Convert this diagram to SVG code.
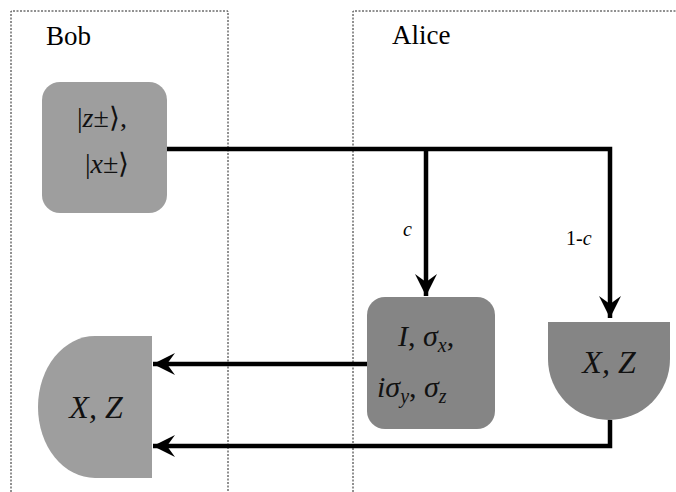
<svg xmlns="http://www.w3.org/2000/svg" width="676" height="492" viewBox="0 0 676 492" font-family="'Times New Roman', 'Liberation Serif', serif">
<defs>
<marker id="ah" viewBox="0 0 24 24" refX="22" refY="12" markerWidth="24" markerHeight="24" markerUnits="userSpaceOnUse" orient="auto">
<path d="M0,1 L22,12 L0,23 L8,12 Z" fill="#000"/>
</marker>
</defs>
<rect width="676" height="492" fill="#fff"/>
<g id="panel-bob">
<path d="M11,492 V11 H228 V492" fill="none" stroke="#222" stroke-width="1" stroke-dasharray="2,1.5"/>
<text x="46" y="45" font-family="'Times New Roman', serif" font-size="27">Bob</text>
</g>
<g id="panel-alice">
<path d="M353,492 V11 H676" fill="none" stroke="#222" stroke-width="1" stroke-dasharray="2,1.5"/>
<text x="392" y="44" font-family="'Times New Roman', serif" font-size="27">Alice</text>
</g>
<g id="connectors" fill="none" stroke="#000" stroke-width="4.5">
<path d="M167,149 H610 V318" marker-end="url(#ah)"/>
<path d="M426,149 V296" marker-end="url(#ah)"/>
<path d="M367,364 H153" marker-end="url(#ah)"/>
<path d="M610,420 V446 H153" marker-end="url(#ah)"/>
<text x="403" y="236" font-family="'Times New Roman', serif" font-size="20" font-style="italic" fill="#000" stroke="none">c</text>
<text x="566" y="245" font-family="'Times New Roman', serif" font-size="20" fill="#000" stroke="none">1-<tspan font-style="italic">c</tspan></text>
</g>
<g id="node-source" font-family="'Times New Roman', serif" font-size="28">
<rect x="42" y="82" width="125" height="131" rx="18" fill="#9e9e9e"/>
<text x="77" y="127" fill="#111">|<tspan font-style="italic">z</tspan>±⟩,</text>
<text x="85" y="173" fill="#111">|<tspan font-style="italic">x</tspan>±⟩</text>
</g>
<g id="node-pauli" font-family="'Times New Roman', serif" font-size="30">
<rect x="367" y="297" width="128" height="132" rx="18" fill="#858585"/>
<text x="398" y="346" fill="#111"><tspan font-style="italic">I</tspan>, <tspan font-style="italic">σ</tspan><tspan dy="6" font-size="20" font-style="italic">x</tspan><tspan dy="-6">,</tspan></text>
<text x="377" y="397" fill="#111"><tspan font-style="italic">iσ</tspan><tspan dy="6" font-size="20" font-style="italic">y</tspan><tspan dy="-6">, </tspan><tspan font-style="italic">σ</tspan><tspan dy="6" font-size="20" font-style="italic">z</tspan></text>
</g>
<g id="node-alice-measure" font-family="'Times New Roman', serif">
<path d="M548,322 H670 V359 A61,61 0 0 1 548,359 Z" fill="#858585"/>
<text x="609" y="373" text-anchor="middle" font-size="32" font-style="italic" fill="#111">X, Z</text>
</g>
<g id="node-bob-measure" font-family="'Times New Roman', serif">
<path d="M152,336 H95 A57,71 0 0 0 95,478 H152 Z" fill="#9e9e9e"/>
<text x="96" y="418" text-anchor="middle" font-size="32" font-style="italic" fill="#111">X, Z</text>
</g>
</svg>
